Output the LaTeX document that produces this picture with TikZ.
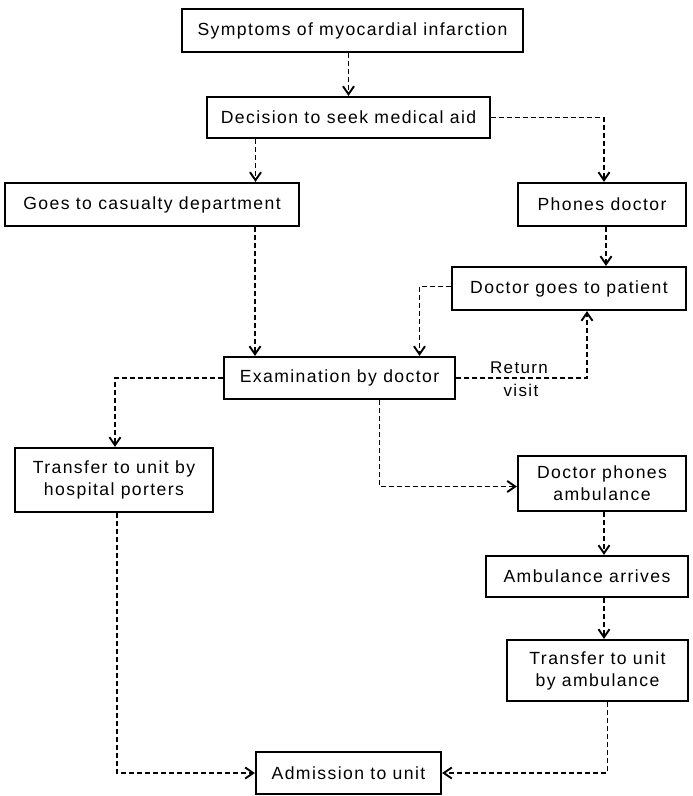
\documentclass[tikz,border=0pt]{standalone}
\usepackage{fontspec}
\setmainfont{Liberation Sans}[LetterSpace=8]
\usetikzlibrary{arrows.meta}
\begin{document}
\begin{tikzpicture}[x=1pt,y=-1pt,
  box/.style={draw, line width=2.2pt, inner sep=0pt, align=center, font=\fontsize{17.6}{22}\selectfont},
  conn/.style={line width=1.9pt, dash pattern=on 5pt off 3pt, -{Straight Barb[length=8pt,width=11pt,line width=1.9pt]}},
  lab/.style={font=\fontsize{17}{18}\selectfont, inner sep=0pt}]
\useasboundingbox (0,0) rectangle (693,796);
\node[box, minimum width=341pt, minimum height=43pt] (sym) at (352.5,30.5) {Symptoms of myocardial infarction};
\node[box, minimum width=283pt, minimum height=41pt] (dec) at (348.5,117.5) {Decision to seek medical aid};
\node[box, minimum width=294pt, minimum height=43pt] (cas) at (152,204.5) {Goes to casualty department};
\node[box, minimum width=168pt, minimum height=43pt] (ph) at (602,204.5) {Phones doctor};
\node[box, minimum width=234pt, minimum height=43pt] (dg) at (569,288.5) {Doctor goes to patient};
\node[box, minimum width=231pt, minimum height=42pt] (ex) at (339.5,378) {Examination by doctor};
\node[box, minimum width=198pt, minimum height=64pt] (tp) at (114,480) {Transfer to unit by\\hospital porters};
\node[box, minimum width=168pt, minimum height=55pt] (dpa) at (602,483.5) {Doctor phones\\ambulance};
\node[box, minimum width=202pt, minimum height=41pt] (aa) at (587,576.5) {Ambulance arrives};
\node[box, minimum width=181pt, minimum height=61pt] (ta) at (597.5,670.5) {Transfer to unit\\by ambulance};
\node[box, minimum width=185pt, minimum height=42pt] (adm) at (348.5,773) {Admission to unit};
\node[lab] (ret) at (519,368) {Return};
\node[lab] (vis) at (521,390) {visit};
% connectors
\draw[conn] (sym.south -| dec.north) -- (dec.north);
\draw[conn] (dec.east) -| ([xshift=2pt]ph.north);
\draw[conn] ([xshift=-93pt]dec.south) -- ([xshift=-93pt]dec.south |- cas.north);
\draw[conn] ([xshift=4pt]ph.south) -- ([xshift=4pt]ph.south |- dg.north);
\draw[conn] ([xshift=103pt]cas.south) -- ([xshift=103pt]cas.south |- ex.north);
\draw[conn] ([yshift=2pt]dg.west) -| ([xshift=80pt]ex.north);
\draw[conn] (ex.east) -| ([xshift=18pt]dg.south);
\draw[conn] (ex.west) -| ([xshift=1pt]tp.north);
\draw[conn] ([xshift=40pt]ex.south) |- ([yshift=-3pt]dpa.west);
\draw[conn] ([xshift=2pt]dpa.south) -- ([xshift=2pt]dpa.south |- aa.north);
\draw[conn] ([xshift=2pt]dpa.south |- aa.south) -- ([xshift=2pt]dpa.south |- ta.north);
\draw[conn] ([xshift=10pt]ta.south) |- (adm.east);
\draw[conn] ([xshift=3pt]tp.south) |- (adm.west);
\end{tikzpicture}
\end{document}
